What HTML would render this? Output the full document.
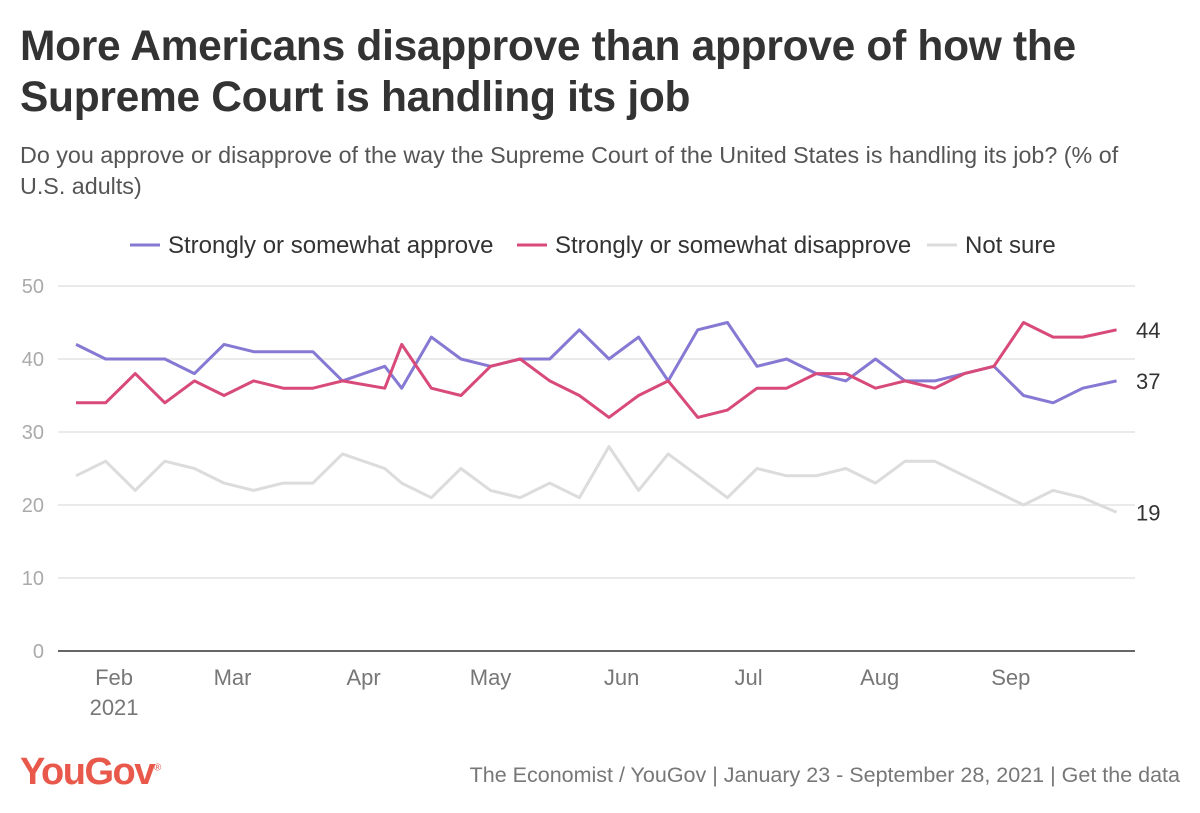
<!DOCTYPE html>
<html><head><meta charset="utf-8">
<style>
body{margin:0;background:#fff;font-family:"Liberation Sans",sans-serif;}
#wrap{position:relative;width:1200px;height:813px;overflow:hidden;}
h1{position:absolute;left:20px;top:21px;margin:0;font-size:42.5px;line-height:51px;font-weight:bold;color:#333;letter-spacing:-0.3px;white-space:nowrap;}
.sub{position:absolute;left:20px;top:140px;font-size:23.3px;line-height:31px;color:#555;white-space:nowrap;}
.src{position:absolute;right:20px;top:763px;font-size:21.5px;color:#777;white-space:nowrap;}
.logo{position:absolute;left:20px;top:751px;font-size:38px;font-weight:bold;color:#e8594c;letter-spacing:-1.5px;}
</style></head>
<body><div id="wrap">
<h1>More Americans disapprove than approve of how the<br>Supreme Court is handling its job</h1>
<div class="sub">Do you approve or disapprove of the way the Supreme Court of the United States is handling its job? (% of<br>U.S. adults)</div>
<svg id="chart" width="1200" height="813" style="position:absolute;left:0;top:0"></svg>
<div class="logo">YouGov<sup style="font-size:10px;font-weight:normal">®</sup></div>
<div class="src">The Economist / YouGov | January 23 - September 28, 2021 | <span>Get the data</span></div>
</div>
<script>
const days=[0,7,14,21,28,35,42,49,56,63,73,77,84,91,98,105,112,119,126,133,140,147,154,161,168,175,182,189,196,203,210,217,224,231,238,246];
const approve=[42,40,40,40,38,42,41,41,41,37,39,36,43,40,39,40,40,44,40,43,37,44,45,39,40,38,37,40,37,37,38,39,35,34,36,37];
const disapprove=[34,34,38,34,37,35,37,36,36,37,36,42,36,35,39,40,37,35,32,35,37,32,33,36,36,38,38,36,37,36,38,39,45,43,43,44];
const notSure=[24,26,22,26,25,23,22,23,23,27,25,23,21,25,22,21,23,21,28,22,27,24,21,25,24,24,25,23,26,26,24,22,20,22,21,19];
const yTicks=[0,10,20,30,40,50];
const monthLabels=["Feb","Mar","Apr","May","Jun","Jul","Aug","Sep"];
const monthDays=[9,37,68,98,129,159,190,221];
const legendLabels=["Strongly or somewhat approve","Strongly or somewhat disapprove","Not sure"];

const NS="http://www.w3.org/2000/svg";
const svg=document.getElementById('chart');
const xS=d=>76+d*4.23;
const yS=v=>651-v*7.3;
function mk(t,a,p){const e=document.createElementNS(NS,t);for(const k in a)e.setAttribute(k,a[k]);(p||svg).appendChild(e);return e;}

yTicks.forEach(v=>{
  if(v>0){const g=mk('line',{x1:58,x2:1135,y1:yS(v),y2:yS(v),stroke:'#e3e3e3','stroke-width':1.5});
  
  }
  const t=mk('text',{x:44,y:yS(v)+7,'text-anchor':'end','font-size':20,fill:'#aaa','font-family':'Liberation Sans'});
  t.textContent=v;
  
  
});
const base=mk('line',{x1:58,x2:1135,y1:651,y2:651,stroke:'#333','stroke-width':1.5});


monthLabels.forEach((m,i)=>{
  const t=mk('text',{x:xS(monthDays[i]),y:685,'text-anchor':'middle','font-size':22,fill:'#777','font-family':'Liberation Sans'});
  t.textContent=m;
  
  
});
const yr=mk('text',{x:xS(monthDays[0]),y:715,'text-anchor':'middle','font-size':22,fill:'#777','font-family':'Liberation Sans'});
yr.textContent='2021';



const series=[[notSure,'#dcdcdc','not-sure'],[approve,'#8579d3','approve'],[disapprove,'#d84a79','disapprove']];
series.forEach(([vals,col,nm])=>{
  const p=mk('polyline',{points:vals.map((v,i)=>xS(days[i])+','+yS(v)).join(' '),fill:'none',stroke:col,'stroke-width':3,'stroke-linejoin':'round'});
  
  
  const last=vals[vals.length-1];
  const t=mk('text',{x:1136,y:yS(last)+8,'font-size':22,fill:'#333','font-family':'Liberation Sans'});
  t.textContent=last;
  
  
});

const legX=[130,517,927], legC=['#8579d3','#d84a79','#dcdcdc'];
legendLabels.forEach((l,i)=>{
  const g=mk('g',{});
  
  
  mk('line',{x1:legX[i],x2:legX[i]+30,y1:245,y2:245,stroke:legC[i],'stroke-width':3},g);
  const t=mk('text',{x:legX[i]+38,y:253,'font-size':24,fill:'#333','font-family':'Liberation Sans'},g);
  t.textContent=l;
});
</script>
</body></html>
